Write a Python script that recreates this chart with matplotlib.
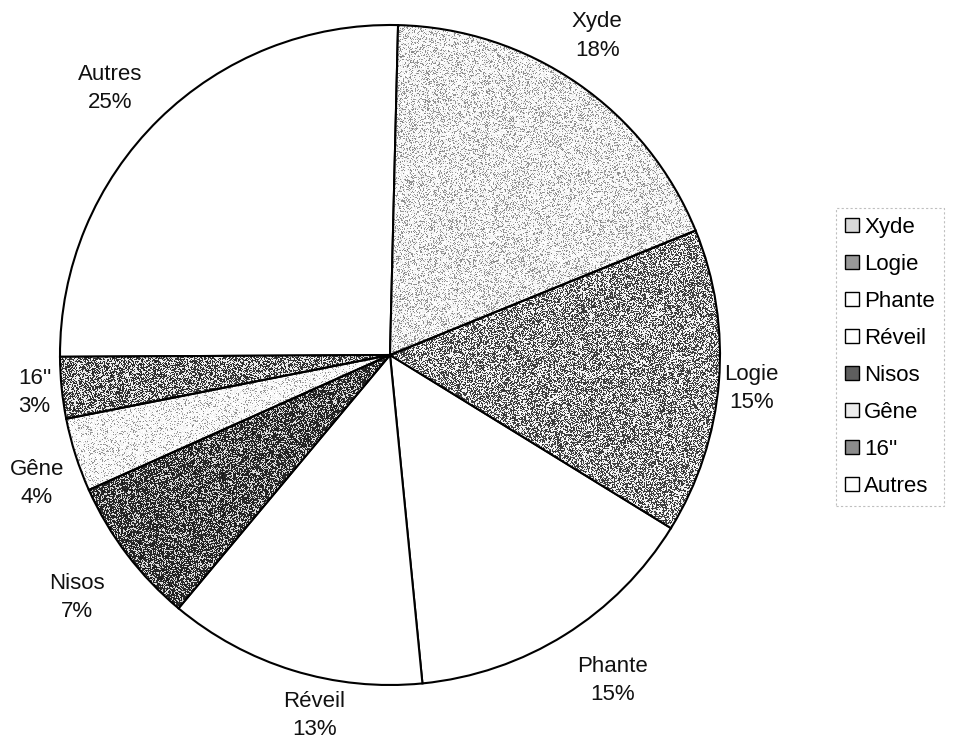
import numpy as np
import matplotlib
matplotlib.use("Agg")
import matplotlib.pyplot as plt
from matplotlib.patches import Patch

plt.rcParams['font.family'] = ['Liberation Sans', 'DejaVu Sans']

# Share of each product
categories = ["Xyde", "Logie", "Phante", "Réveil", "Nisos", "Gêne", "16''", "Autres"]
shares = [18.4, 14.9, 14.6, 12.6, 7.2, 3.6, 3.0, 25.4]

# Mean tone of each slice, used for the legend swatches
fill_grays = ["#d8d8d8", "#999999", "#ffffff", "#ffffff", "#5e5e5e", "#ececec", "#8c8c8c", "#ffffff"]
# Stipple: fraction of dark dots, dot tone, background tone
stipple_density = [0.24, 0.50, 0.0, 0.0, 0.67, 0.15, 0.52, 0.0]
dot_tone = [0.58, 0.25, 1.0, 1.0, 0.15, 0.60, 0.20, 1.0]
ground_tone = [0.97, 0.95, 1.0, 1.0, 0.85, 0.98, 0.92, 1.0]

# Label placement: radius (in pie radii) and angular nudge (degrees) from the slice middle
label_radius = [1.153, 1.10, 1.195, 1.117, 1.20, 1.138, 1.083, 1.17]
label_nudge = [1.6, -0.6, 2.3, 5.3, 0.6, 2.3, 0.3, 1.9]

fig = plt.figure(figsize=(9.62, 7.47), dpi=100)
cx, cy, r = 390, 355, 330
W, H = 962, 747
ax = fig.add_axes([(cx - r) / W, (H - cy - r) / H, 2 * r / W, 2 * r / H])

wedges, _ = ax.pie(shares, startangle=88.6, counterclock=False, radius=1,
                   colors=fill_grays,
                   wedgeprops=dict(edgecolor="black", linewidth=1.5))
ax.set_xlim(-1, 1)
ax.set_ylim(-1, 1)
ax.set_aspect("equal")
ax.axis("off")

# Stippled texture inside the shaded slices
rng = np.random.default_rng(7)
N = 660
for w, dens, dt, gt in zip(wedges, stipple_density, dot_tone, ground_tone):
    if dens <= 0:
        continue
    dots = rng.random((N, N)) < dens
    tex = np.where(dots, dt, gt) + rng.normal(0, 0.035, (N, N))
    tex = np.clip(tex, 0, 1)
    w.set_facecolor("none")
    w.set_zorder(3)
    im = ax.imshow(tex, cmap="gray", vmin=0, vmax=1, extent=(-1, 1, -1, 1),
                   interpolation="nearest", zorder=2)
    im.set_clip_path(w)

total = sum(shares)
for w, name, val, rad, nudge in zip(wedges, categories, shares, label_radius, label_nudge):
    mid = np.deg2rad((w.theta1 + w.theta2) / 2 + nudge)
    ax.text(rad * np.cos(mid), rad * np.sin(mid), f"{name}\n{100 * val / total:.0f}%",
            ha="center", va="center", fontsize=16, linespacing=1.45, color="#111111")

handles = [Patch(facecolor=c, edgecolor="black", linewidth=1.0) for c in fill_grays]
leg = fig.legend(handles, categories, loc="upper left",
                 bbox_to_anchor=(836 / W, 1 - 208 / H),
                 frameon=True, fontsize=16, handlelength=0.62, handleheight=0.62,
                 handletextpad=0.25, labelspacing=0.72, borderpad=0.4,
                 borderaxespad=0, fancybox=False)
frame = leg.get_frame()
frame.set_edgecolor("#b0b0b0")
frame.set_linestyle((0, (2, 2)))
frame.set_linewidth(0.8)

fig.savefig("out.png", dpi=100, facecolor="white")
